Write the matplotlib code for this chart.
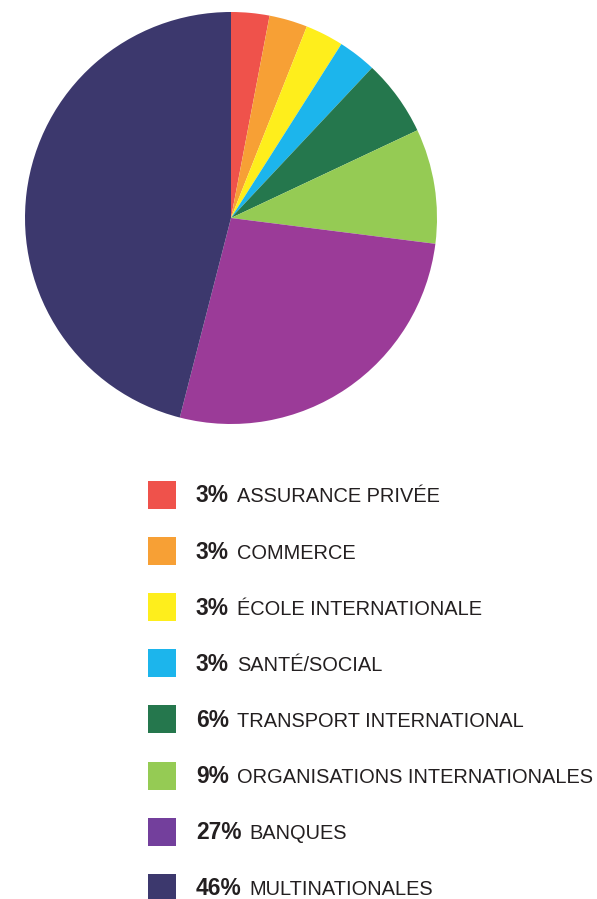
import matplotlib.pyplot as plt
from matplotlib.patches import Rectangle

plt.rcParams['font.family'] = ['Liberation Sans', 'DejaVu Sans']

# Data
labels = ['ASSURANCE PRIVÉE', 'COMMERCE', 'ÉCOLE INTERNATIONALE', 'SANTÉ/SOCIAL',
          'TRANSPORT INTERNATIONAL', 'ORGANISATIONS INTERNATIONALES', 'BANQUES',
          'MULTINATIONALES']
shares = [3, 3, 3, 3, 6, 9, 27, 46]
pie_colors = ['#EF524B', '#F7A035', '#FEEE1C', '#1CB5EC', '#25774D', '#95CB54',
              '#9B3B98', '#3C386D']
legend_colors = ['#EF524B', '#F7A035', '#FEEE1C', '#1CB5EC', '#25774D', '#95CB54',
                 '#733F9C', '#3C386D']

W, H = 597, 899
fig = plt.figure(figsize=(W / 100, H / 100), dpi=100)
ax = fig.add_axes([0, 0, 1, 1])

# Pie (pixel coordinates, y up)
ax.pie(shares, colors=pie_colors, startangle=90, counterclock=False,
       center=(231, H - 218), radius=206, frame=True,
       wedgeprops=dict(linewidth=0))
ax.set_xlim(0, W)
ax.set_ylim(0, H)
ax.set_aspect('equal')
ax.axis('off')

# Legend: square, bold share, then label on the same baseline
renderer = fig.canvas.get_renderer()
for i, (lab, val, col) in enumerate(zip(labels, shares, legend_colors)):
    top = 481 + i * 56.1
    ax.add_patch(Rectangle((148, H - top - 28), 28, 28, color=col, lw=0))
    base = H - (top + 21.5)
    t = ax.text(196, base, f'{val}%', fontsize=16.4, fontweight='bold',
                color='#231F20', va='baseline', ha='left')
    x_end = t.get_window_extent(renderer).x1
    ax.text(x_end + 8, base, lab, fontsize=14.45, color='#231F20',
            va='baseline', ha='left')

plt.savefig('out.png', dpi=100)
